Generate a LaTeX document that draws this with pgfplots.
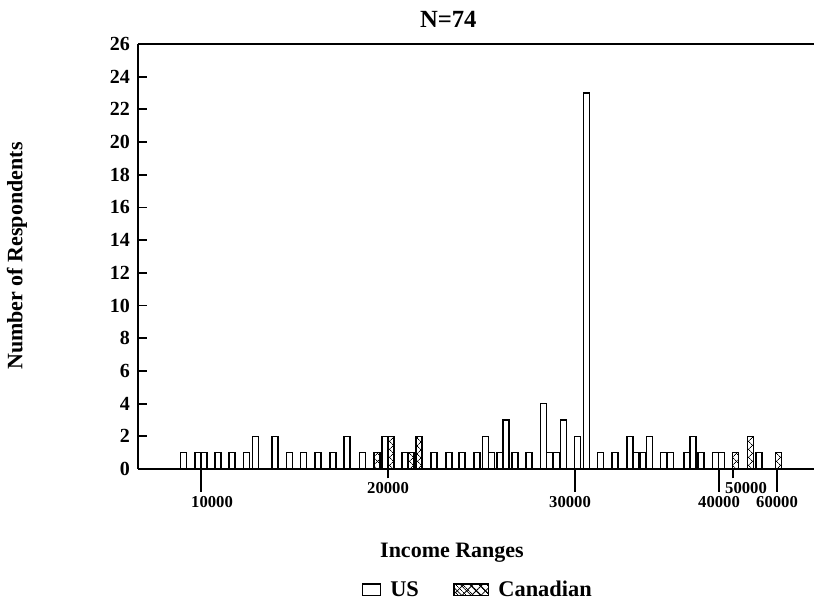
\documentclass[border=0pt]{standalone}
\usepackage{fontspec}
\setmainfont{Liberation Serif}
\usepackage{pgfplots}
\pgfplotsset{compat=1.18}
\usetikzlibrary{patterns.meta}

\pgfplotstableread{
x y
183.5 1
198 1
204 1
218 1
232 1
246.5 1
255.5 2
275 2
289.5 1
303.5 1
318 1
333 1
347 2
362.5 1
385 2
405 1
434 1
449 1
462 1
477 1
485.5 2
491.5 1
500 1
506 3
515 1
529 1
543.5 4
549.5 1
556.5 1
563.5 3
577.5 2
586.5 23
600.5 1
615 1
630 2
636 1
643 1
649.5 2
663.5 1
670.5 1
687 1
693 2
701 1
715.5 1
721.5 1
759 1
}\us

\pgfplotstableread{
x y
377 1
391 2
411 1
419 2
735.5 1
750.5 2
778.5 1
}\can

\begin{document}
\begin{tikzpicture}
\useasboundingbox (0,0) rectangle (610.5pt,453.75pt);
\begin{axis}[
  at={(103.5pt,102pt)}, anchor=south west,
  scale only axis, width=507pt, height=318.75pt,
  xmin=138, xmax=814, ymin=0, ymax=26,
  enlargelimits=false,
  axis x line=box, axis y line=left,
  x axis line style={-}, y axis line style={-},
  axis line style={line width=1.5pt},
  every outer y axis line/.append style={-},
  xtick align=outside, ytick align=inside,
  major tick length=17pt, minor tick length=7pt,
  tick style={line width=1.4pt, black},
  ytick={0,2,...,26},
  minor ytick={0,2,...,26},
  major y tick style={draw=none},
  xtick={201,575,719,777},
  xticklabels={\hspace*{16.5pt}10000, 30000\hspace*{7.5pt}, 40000, 60000},
  minor xtick={388,733},
  extra x ticks={388,746},
  extra x tick labels={20000,50000},
  extra x tick style={major tick length=0pt, tick style={draw=none}, tick label style={yshift=-6.75pt}},
  xtick pos=left, ytick pos=left,
  /pgf/number format/assume math mode=true,
  yticklabel style={font=\fontsize{15}{17}\selectfont\bfseries, xshift=-2.5pt},
  xticklabel style={font=\fontsize{12.5}{14}\selectfont\bfseries},
  title={N=74},
  title style={at={(axis description cs:0.459,1.038)}, anchor=center, font=\fontsize{18.5}{20}\selectfont\bfseries},
  xlabel={Income Ranges},
  xlabel style={at={(axis description cs:0.4645,-0.197)}, anchor=center, font=\fontsize{16.5}{18}\selectfont\bfseries},
  ylabel={Number of Respondents},
  ylabel style={at={(axis description cs:-0.179,0.501)}, anchor=center, font=\fontsize{16.5}{18}\selectfont\bfseries},
  legend columns=2,
  legend style={at={(axis description cs:0.503,-0.285)}, anchor=center, draw=none, fill=none,
    font=\fontsize{16.8}{18}\selectfont\bfseries,
    /tikz/every odd column/.append style={column sep=5pt},
    /tikz/every even column/.append style={column sep=24pt}},
]
\addplot[ybar, bar width=6, bar shift=0pt, draw=black, line width=1.1pt, fill=white,
  legend image code/.code={\draw[line width=1pt,fill=white] (0pt,-4pt) rectangle (13.5pt,4.5pt);}]
  table[x=x,y=y] {\us};
\addlegendentry{US}
\addplot[ybar, bar width=6, bar shift=0pt, draw=black, line width=1.1pt,
  pattern={Lines[angle=45,distance=4pt,line width=0.6pt]},
  postaction={pattern={Lines[angle=-45,distance=4pt,line width=0.6pt]}},
  legend image code/.code={\draw[line width=1pt,
     pattern={Lines[angle=45,distance=5pt,line width=0.6pt]},
     postaction={pattern={Lines[angle=-45,distance=5pt,line width=0.6pt]}}] (0pt,-4pt) rectangle (26pt,4.5pt);}]
  table[x=x,y=y] {\can};
\addlegendentry{Canadian}
\end{axis}
\end{tikzpicture}
\end{document}
